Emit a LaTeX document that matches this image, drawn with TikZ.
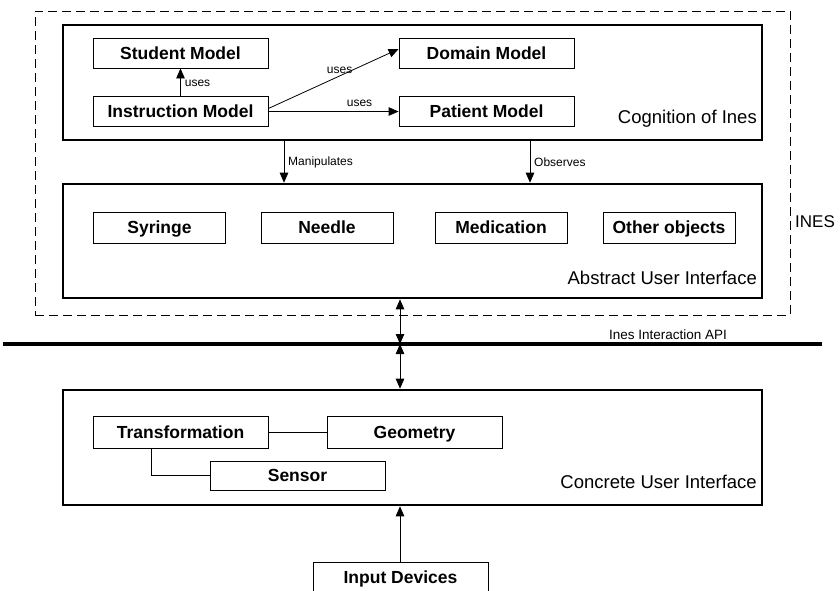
\documentclass[tikz,border=0pt]{standalone}
\usepackage{fontspec}
\setmainfont{Liberation Sans}
\usetikzlibrary{arrows.meta}

\tikzset{
  layer/.style={draw, line width=2.6pt, minimum width=699pt, inner sep=0pt},
  part/.style={draw, line width=0.8pt, inner sep=0pt, minimum height=30pt,
               text height=12.5pt, text depth=0pt,
               font=\fontsize{17.5}{17.5}\selectfont\bfseries},
  wide/.style={part, minimum width=175pt},
  obj/.style={part, minimum width=132pt, minimum height=31pt},
  region/.style={font=\fontsize{18.5}{18.5}\selectfont, inner sep=0pt,
                 text height=13pt, text depth=0pt},
  small/.style={font=\fontsize{12}{12}\selectfont, inner sep=0pt},
  link/.style={line width=0.8pt, -{Triangle[length=10pt,width=8.5pt]}},
  both/.style={line width=0.8pt, {Triangle[length=10pt,width=8.5pt]}-{Triangle[length=10pt,width=8.5pt]}},
  wire/.style={line width=0.6pt}
}

\begin{document}
\begin{tikzpicture}[x=1pt, y=-1pt]
  \useasboundingbox (0,0) rectangle (840,590);
  \clip (0,0) rectangle (840,590);

  % INES system boundary
  \node[draw, dashed, dash pattern=on 9pt off 5pt, line width=0.9pt,
        minimum width=755pt, minimum height=304pt, inner sep=0pt] (ines) at (412.5,163) {};
  \node[anchor=west, font=\fontsize{17}{17}\selectfont, inner sep=0pt] (inesname) at (795,222) {INES};

  % Cognition layer
  \node[layer, minimum height=115pt] (cog) at (412.5,82.5) {};
  \node[wide] (student) at (180.5,53) {Student Model};
  \node[wide] (instr) at (180.5,111.5) {Instruction Model};
  \node[wide] (domain) at (486.5,53) {Domain Model};
  \node[wide] (patient) at (486.5,111.5) {Patient Model};
  \node[region, anchor=east] (coglabel) at (757,117) {Cognition of Ines};

  \draw[link] (instr) -- node[small, right=4pt, pos=0.45] (u1) {uses} (student);
  \draw[link] ([yshift=3pt]instr.east) -- node[small, above=1pt, xshift=-3pt, pos=0.57] (u2) {uses} ([yshift=4pt]domain.west);
  \draw[link] (instr.east) -- node[small, above=4pt, pos=0.7] (u3) {uses} (patient.west);

  % Abstract user interface layer
  \node[layer, minimum height=114pt] (abs) at (412.5,241) {};
  \node[obj] (syringe) at (159.5,227.5) {Syringe};
  \node[obj] (needle) at (327,227.5) {Needle};
  \node[obj] (medication) at (501,227.5) {Medication};
  \node[obj] (other) at (669,227.5) {Other objects};
  \node[region, anchor=east] (abslabel) at (757,278) {Abstract User Interface};

  \coordinate (mtop) at (284,140);
  \coordinate (otop) at (530,140);
  \draw[link] (mtop) -- (mtop |- abs.north);
  \draw[link] (otop) -- (otop |- abs.north);
  \node[small, anchor=west] (manip) at (288,162) {Manipulates};
  \node[small, anchor=west] (obs) at (534,162) {Observes};

  % Interaction API
  \coordinate (apiL) at (3,344);
  \coordinate (apiR) at (822,344);
  \draw[line width=4pt] (apiL) -- (apiR);
  \node[small, font=\fontsize{13.5}{13.5}\selectfont] (apilabel) at (668,335) {Ines Interaction API};
  \coordinate (apiX) at (400,344);

  % Concrete user interface layer
  \node[layer, minimum height=115pt] (conc) at (412.5,447.5) {};
  \node[wide, minimum height=32pt] (trans) at (180.5,432) {Transformation};
  \node[wide, minimum height=32pt] (geom) at (414.5,432) {Geometry};
  \node[wide, minimum height=29pt] (sensor) at (297.5,475.5) {Sensor};
  \node[region, anchor=east] (conclabel) at (757,482) {Concrete User Interface};

  \draw[wire] (trans) -- (geom);
  \coordinate (tdrop) at (151,448);
  \draw[wire] (tdrop) |- (sensor.west);

  \draw[both] (apiX |- abs.south) -- (apiX);
  \draw[both] (apiX) -- (apiX |- conc.north);

  % Input devices
  \node[wide] (input) at (400.5,577) {Input Devices};
  \draw[link] (input.north -| apiX) -- (apiX |- conc.south);
\end{tikzpicture}
\end{document}
